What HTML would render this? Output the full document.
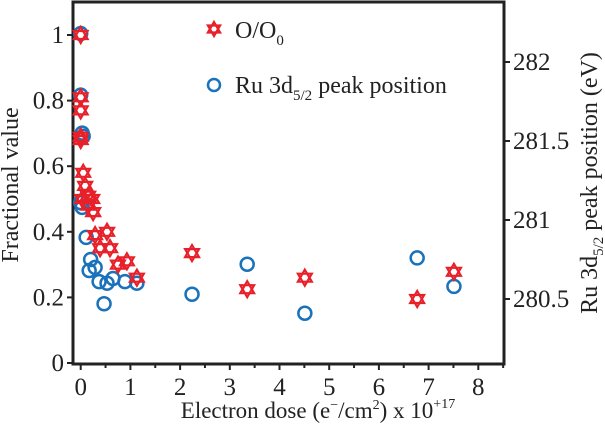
<!DOCTYPE html>
<html><head><meta charset="utf-8"><style>
body{margin:0;background:#fff}
svg{display:block;font-family:"Liberation Serif",serif}
</style></head><body>
<svg width="605" height="424" viewBox="0 0 605 424">
<g id="axes"></g>
<g id="marks"></g>
<g>
 <g id="legstar"></g>
 <text x="235" y="38" font-size="24" fill="#222">O/O<tspan font-size="15" dy="7">0</tspan></text>
 <circle cx="214" cy="85" r="6" fill="none" stroke="#1a72bb" stroke-width="2.5"/>
 <text x="235" y="93" font-size="24" fill="#222">Ru 3d<tspan font-size="15" dy="7">5/2</tspan><tspan dy="-7"> peak position</tspan></text>
</g>
<text transform="translate(18,185) rotate(-90)" text-anchor="middle" font-size="24" fill="#222">Fractional value</text>
<text transform="translate(597,183) rotate(-90)" text-anchor="middle" font-size="24" fill="#222">Ru 3d<tspan font-size="15" dy="6">5/2</tspan><tspan dy="-6"> peak position (eV)</tspan></text>
<text x="318" y="418" text-anchor="middle" font-size="23" fill="#222">Electron dose (e<tspan font-size="14" dy="-9">−</tspan><tspan dy="9">/cm</tspan><tspan font-size="14" dy="-9">2</tspan><tspan dy="9">)  x 10</tspan><tspan font-size="14" dy="-10">+17</tspan></text>
</svg>
<script>
const xTicks=[0,1,2,3,4,5,6,7,8];
const yTicks=[0,0.2,0.4,0.6,0.8,1];
const yLabels=["0","0.2","0.4","0.6","0.8","1"];
const rTicks=[280.5,281,281.5,282];
const rLabels=["280.5","281","281.5","282"];
const oDose=[0,0,0,0,0,0.05,0.09,0.15,0.03,0.23,0.15,0.25,0.29,0.53,0.39,0.59,0.75,0.93,1.13,2.24,3.35,4.51,6.77,7.51];
const oVal=[1.0,0.81,0.77,0.69,0.68,0.58,0.54,0.51,0.5,0.5,0.48,0.46,0.39,0.40,0.35,0.35,0.30,0.31,0.26,0.335,0.225,0.26,0.195,0.278];
const ruDose=[0,0,0.03,0.05,0,0.03,0.11,0.2,0.17,0.29,0.37,0.47,0.53,0.65,0.89,1.13,2.24,3.35,4.51,6.77,7.51];
const ruVal=[282.18,281.79,281.55,281.53,281.11,281.08,280.89,280.75,280.68,280.70,280.61,280.47,280.60,280.63,280.61,280.60,280.53,280.72,280.41,280.76,280.58];
const L=73,R=504,T=2,B=364;
const xs=v=>80.7+v*49.7;
const ys=v=>363-v*328;
const yr=v=>299-(v-280.5)*158;
const NS="http://www.w3.org/2000/svg";
function mk(t,a,p){const e=document.createElementNS(NS,t);for(const k in a)e.setAttribute(k,a[k]);p.appendChild(e);return e;}
const ax=document.getElementById('axes');
const frame=mk('rect',{x:L,y:T,width:R-L,height:B-T,fill:'none',stroke:'#222','stroke-width':3},ax);


xTicks.forEach(v=>{
 const l=mk('line',{x1:xs(v),x2:xs(v),y1:B,y2:B+6,stroke:'#222','stroke-width':2},ax);
 
 
 const h=mk('line',{x1:xs(v+0.5),x2:xs(v+0.5),y1:B,y2:B+4,stroke:'#222','stroke-width':2},ax);
 
 
 const t=mk('text',{x:xs(v),y:B+31,'text-anchor':'middle','font-size':25,fill:'#222'},ax);t.textContent=v;
 
 
});
yTicks.forEach((v,i)=>{
 const l=mk('line',{x1:L-6,x2:L,y1:ys(v),y2:ys(v),stroke:'#222','stroke-width':2},ax);
 
 
 const t=mk('text',{x:L-9,y:ys(v)+8,'text-anchor':'end','font-size':25,fill:'#222'},ax);t.textContent=yLabels[i];
 
 
});
rTicks.forEach((v,i)=>{
 const l=mk('line',{x1:R,x2:R+6,y1:yr(v),y2:yr(v),stroke:'#222','stroke-width':2},ax);
 
 
 const t=mk('text',{x:R+9,y:yr(v)+8,'font-size':25,fill:'#222'},ax);t.textContent=rLabels[i];
 
 
});
function star(cx,cy,r,p){
 const g=mk('g',{},p);
 const a=[],b=[];
 for(let k=0;k<3;k++){const t1=-Math.PI/2+k*2*Math.PI/3,t2=Math.PI/2+k*2*Math.PI/3;
  a.push((cx+r*Math.cos(t1)).toFixed(1)+','+(cy+r*Math.sin(t1)).toFixed(1));
  b.push((cx+r*Math.cos(t2)).toFixed(1)+','+(cy+r*Math.sin(t2)).toFixed(1));}
 mk('polygon',{points:a.join(' '),fill:'none',stroke:'#e8202a','stroke-width':2.2},g);
 mk('polygon',{points:b.join(' '),fill:'none',stroke:'#e8202a','stroke-width':2.2},g);
 return g;
}
const mg=document.getElementById('marks');
ruDose.forEach((d,i)=>{
 const c=mk('circle',{cx:xs(d),cy:yr(ruVal[i]),r:6.5,fill:'none',stroke:'#1a72bb','stroke-width':2.5},mg);
 
 
});
oDose.forEach((d,i)=>{
 const s=star(xs(d),ys(oVal[i]),8,mg);
 
 
});
star(214,29,7,document.getElementById('legstar'));
</script>
</body></html>
